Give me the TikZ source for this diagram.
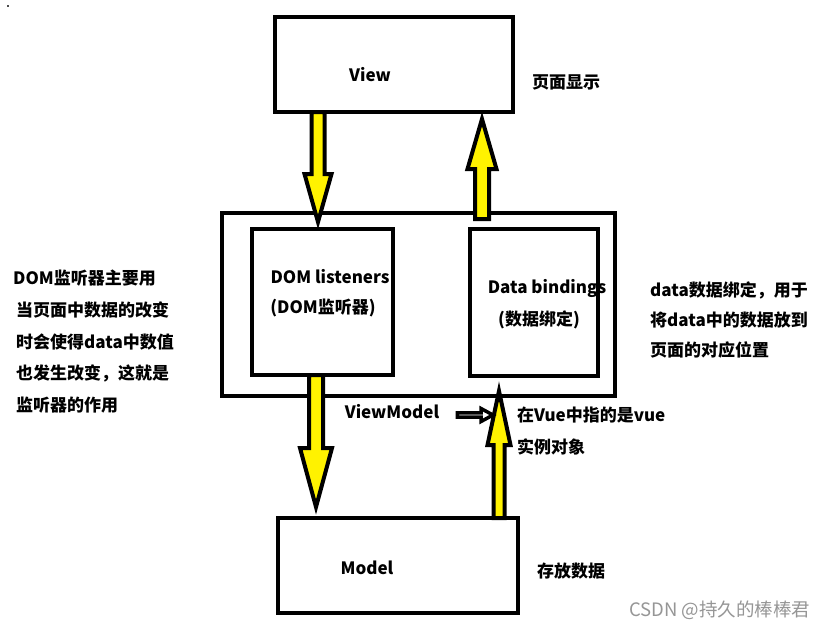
\documentclass[tikz,border=0pt]{standalone}
\usepackage{fontspec}
\setmainfont{Noto Sans CJK SC}
\usetikzlibrary{calc}
\definecolor{ay}{RGB}{255,242,0}
\definecolor{wm}{RGB}{150,150,150}
\tikzset{
  box/.style={draw=black, line width=4pt, rectangle, outer sep=0pt, inner sep=0pt, fill=none},
  txt/.style={font=\fontsize{17pt}{20pt}\selectfont\bfseries, inner sep=0pt, text=black},
  yarrowstyle/.style={draw=black, fill=ay, line width=4pt, line join=miter},
  warrowstyle/.style={draw=black, fill=white, line width=3.5pt, line join=miter},
}
% block arrow: #1 tail, #2 tip, #3 shaft half-width, #4 head half-width, #5 head length, #6 style
\newcommand{\blockarrow}[6]{%
  \coordinate (bah) at ($(#2)!#5pt!(#1)$);
  \draw[#6] ($(#1)!#3pt!90:(#2)$) -- ($(bah)!#3pt!90:(#2)$) -- ($(bah)!#4pt!90:(#2)$) -- (#2)
    -- ($(bah)!#4pt!-90:(#2)$) -- ($(bah)!#3pt!-90:(#2)$) -- ($(#1)!#3pt!-90:(#2)$) -- cycle;
}
\begin{document}
\begin{tikzpicture}[x=1pt,y=-1pt]
\useasboundingbox (0,0) rectangle (836,629);
\fill[white] (0,0) rectangle (836,629);
\fill[black!70] (7,5) rectangle (9,7);

% boxes
\node[box, minimum width=238pt, minimum height=95pt] (view) at (394,64.5) {};
\node[box, minimum width=393pt, minimum height=183pt] (vm) at (418.5,304.5) {};
\node[box, minimum width=141pt, minimum height=146pt] (dom) at (322.5,302) {};
\node[box, minimum width=128pt, minimum height=147pt] (data) at (534,302.5) {};
\node[box, minimum width=240pt, minimum height=95pt] (model) at (398,565.5) {};

% texts in boxes
\node[txt] (tview) at (370,75) {View};
\node[txt] (tdom1) at (330,277) {DOM listeners};
\node[txt] (tdom2) at (323,308) {(DOM监听器)};
\node[txt] (tdata1) at (547,288) {Data bindings};
\node[txt] (tdata2) at (539,320) {(数据绑定)};
\node[txt] (tmodel) at (367,568) {Model};
\node[txt] (tvm) at (392,412) {ViewModel};

% side texts
\node[txt, anchor=west] (tshow) at (532,82) {页面显示};
\node[txt, anchor=west] (tstore) at (537,571) {存放数据};
\node[txt, anchor=west] (tvue1) at (517,415) {在Vue中指的是vue};
\node[txt, anchor=west] (tvue2) at (517,447) {实例对象};

\node[txt, anchor=west] (l1) at (13,278) {DOM监听器主要用};
\node[txt, anchor=west] (l2) at (16,310) {当页面中数据的改变};
\node[txt, anchor=west] (l3) at (16,342) {时会使得data中数值};
\node[txt, anchor=west] (l4) at (16,373) {也发生改变，这就是};
\node[txt, anchor=west] (l5) at (16,405) {监听器的作用};

\node[txt, anchor=west] (r1) at (650,290) {data数据绑定，用于};
\node[txt, anchor=west] (r2) at (650,320) {将data中的数据放到};
\node[txt, anchor=west] (r3) at (650,350) {页面的对应位置};

\node[font=\fontsize{18.5pt}{22pt}\selectfont, text=wm, anchor=west, inner sep=0pt] (wmk) at (629,610) {CSDN @持久的棒棒君};

% arrow coordinates
\coordinate (a1s) at ($(view.south)+(-76,0)$);
\coordinate (a1e) at ($(a1s |- dom.north)+(0,-7)$);
\coordinate (a2s) at ($(data.north)+(-52,-10)$);
\coordinate (a2e) at ($(a2s |- view.south)+(0,7)$);
\coordinate (a3s) at ($(dom.south)+(-6.5,0)$);
\coordinate (a3e) at ($(a3s |- model.north)+(0,-11)$);
\coordinate (a4s) at ($(model.north)+(101,0)$);
\coordinate (a4e) at ($(a4s |- data.south)+(0,15)$);

\blockarrow{a1s}{a1e}{6.5}{13.5}{48}{yarrowstyle}
\blockarrow{a2s}{a2e}{7}{14.5}{50}{yarrowstyle}
\blockarrow{a3s}{a3e}{7}{16}{59}{yarrowstyle}
\blockarrow{a4s}{a4e}{5.5}{11.5}{54}{yarrowstyle}

% small white arrow from ViewModel text to arrow a4
\coordinate (sas) at ($(tvm.east)+(18,3)$);
\coordinate (sae) at ($(sas -| a4s)+(-6,0)$);
\blockarrow{sas}{sae}{2.2}{6.5}{12}{warrowstyle}
\end{tikzpicture}
\end{document}
